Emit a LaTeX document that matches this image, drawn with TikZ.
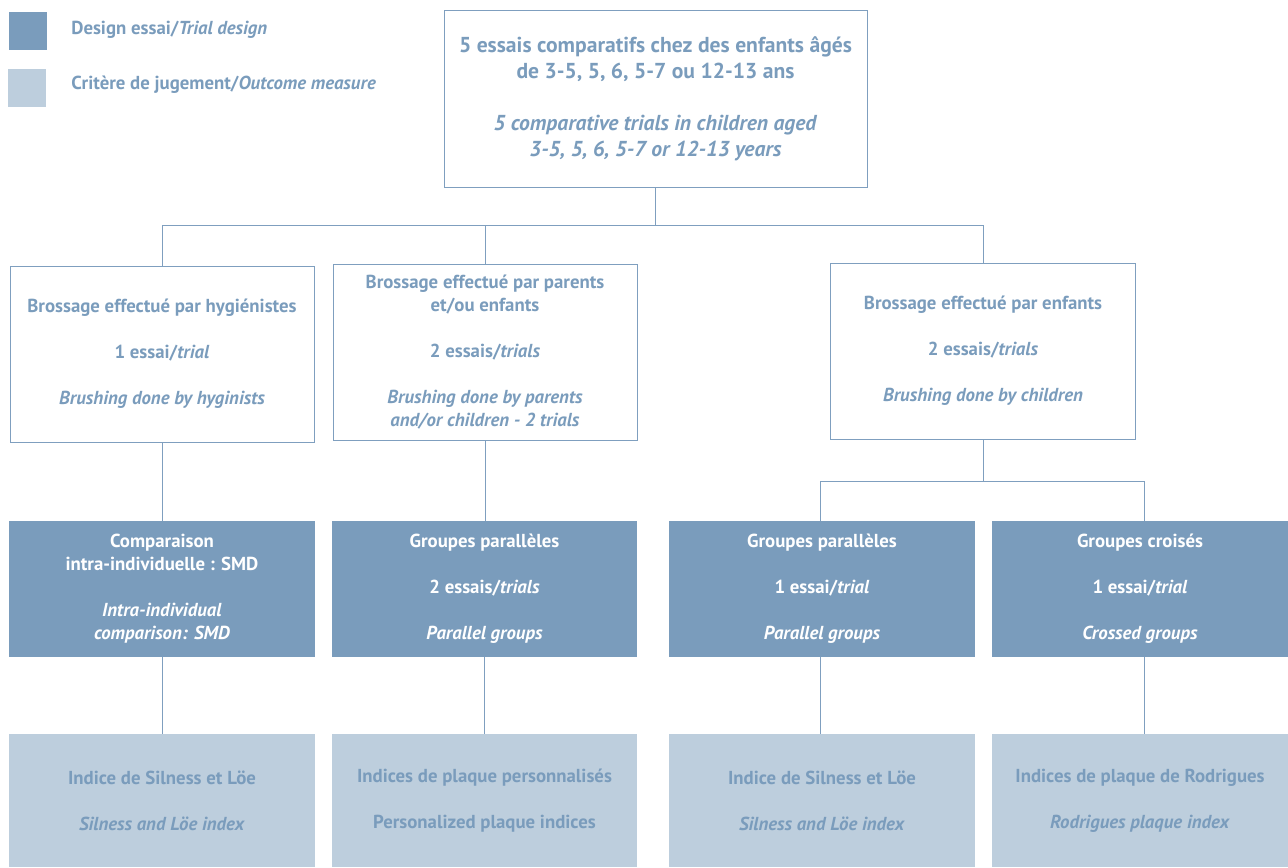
\documentclass[tikz,border=0pt]{standalone}
\usepackage{fontspec}
\setmainfont{PT Sans}
\usetikzlibrary{positioning}
\definecolor{hasblue}{RGB}{122,156,188}
\definecolor{haslight}{RGB}{189,206,221}
\definecolor{hasline}{RGB}{127,159,191}
\tikzset{
	txt/.style={font=\bfseries\fontsize{10.7}{13.1}\selectfont, text=hasblue, align=center, inner sep=0pt},
	outbox/.style={txt, draw=hasline, line width=0.5pt, minimum width=6.08cm, minimum height=3.52cm},
	designbox/.style={txt, fill=hasblue, text=white, minimum width=6.12cm, minimum height=2.72cm},
	critbox/.style={txt, fill=haslight, text=hasblue, minimum width=6.12cm, minimum height=2.66cm},
	link/.style={draw=hasline, line width=0.5pt}
}

\begin{document}
\begin{tikzpicture}[x=0.02cm, y=-0.02cm]
	\useasboundingbox (0,0) rectangle (1288,867);

	% legend
	\node [fill=hasblue, minimum size=0.76cm, inner sep=0pt] (keydesign) at (28,31) {};
	\node [fill=haslight, minimum size=0.76cm, inner sep=0pt] (keycrit) at (27,88) {};
	\node [txt, anchor=west] at (71,30) {Design essai/\textit{Trial design}};
	\node [txt, anchor=west] at (71,85) {Critère de jugement/\textit{Outcome measure}};

	% population
	\node [txt, draw=hasline, line width=0.5pt, minimum width=8.46cm, minimum height=3.54cm,
		font=\bfseries\fontsize{12.3}{14.8}\selectfont] (pop) at (655.5,98.5)
		{5 essais comparatifs chez des enfants âgés\\de 3-5, 5, 6, 5-7 ou 12-13 ans\\[14.8pt]
		\textit{5 comparative trials in children aged}\\\textit{3-5, 5, 6, 5-7 or 12-13 years}};

	% who brushes
	\node [outbox] (hyg) at (162,354)
		{Brossage effectué par hygiénistes\\[13pt]1 essai/\textit{trial}\\[13pt]\textit{Brushing done by hyginists}};
	\node [outbox] (par) at (485,352)
		{Brossage effectué par parents\\et/ou enfants\\[13pt]2 essais/\textit{trials}\\[13pt]
		\textit{Brushing done by parents}\\\textit{and/or children - 2 trials}};
	\node [outbox, minimum width=6.1cm] (enf) at (983,351)
		{Brossage effectué par enfants\\[13pt]2 essais/\textit{trials}\\[13pt]\textit{Brushing done by children}};

	% trial design
	\node [designbox] (smd) at (162,589)
		{Comparaison\\intra-individuelle : SMD\\[13pt]\textit{Intra-individual}\\\textit{comparison: SMD}};
	\node [designbox, minimum width=6.1cm] (parA) at (484.5,589)
		{Groupes parallèles\\[13pt]2 essais/\textit{trials}\\[13pt]\textit{Parallel groups}};
	\node [designbox] (parB) at (822,589)
		{Groupes parallèles\\[13pt]1 essai/\textit{trial}\\[13pt]\textit{Parallel groups}};
	\node [designbox, minimum width=5.92cm] (cross) at (1140,589)
		{Groupes croisés\\[13pt]1 essai/\textit{trial}\\[13pt]\textit{Crossed groups}};

	% outcome measures
	\node [critbox] (silA) at (162,800.5)
		{Indice de Silness et Löe\\[13pt]\textit{Silness and Löe index}};
	\node [critbox, minimum width=6.1cm] (perso) at (484.5,800.5)
		{Indices de plaque personnalisés\\[13pt]Personalized plaque indices};
	\node [critbox] (silB) at (822,800.5)
		{Indice de Silness et Löe\\[13pt]\textit{Silness and Löe index}};
	\node [critbox, minimum width=5.92cm] (rod) at (1140,800.5)
		{Indices de plaque de Rodrigues\\[13pt]\textit{Rodrigues plaque index}};

	% connectors
	\coordinate (split) at (654,225);
	\coordinate (rsplit) at (983,481);
	\coordinate (dropB) at (820,521);
	\coordinate (dropC) at (1144,521);
	\draw [link] (pop.south) -- (pop.south |- split);
	\draw [link] (hyg.north) |- (enf.north |- split) -- (enf.north);
	\draw [link] (par.north) -- (par.north |- split);
	\draw [link] (hyg.south) -- (smd.north);
	\draw [link] (par.south) -- (par.south |- parA.north);
	\draw [link] (enf.south) -- (enf.south |- rsplit);
	\draw [link] (dropB) |- (rsplit) -| (dropC);
	\draw [link] (smd.south) -- (silA.north);
	\draw [link] (parA.south) -- (perso.north);
	\draw [link] (dropB |- parB.south) -- (dropB |- silB.north);
	\draw [link] (dropC |- cross.south) -- (dropC |- rod.north);
\end{tikzpicture}
\end{document}
